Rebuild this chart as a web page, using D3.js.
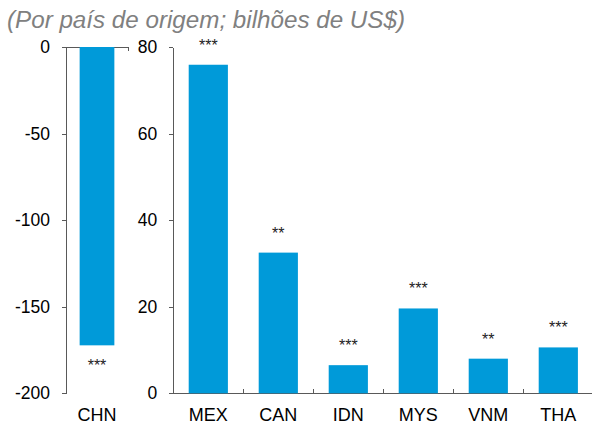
<!DOCTYPE html>
<meta charset="utf-8">
<style>
html, body {
  margin: 0;
  background: #fff;
}

text {
  font-family: "Liberation Sans", Arial, sans-serif;
  fill: #000;
}

.axis path, .axis line {
  stroke: #595959;
  stroke-width: 1px;
  shape-rendering: crispEdges;
}

.axis text {
  font-size: 17.5px;
  fill: #000;
}

rect.bar {
  fill: #009ad9;
}

.stars {
  font-size: 16px;
  fill: #222;
}

.cat {
  font-size: 18px;
}

.subtitle {
  font-size: 24.2px;
  font-style: italic;
  fill: #808080;
}
</style>

<svg></svg>

<script src="https://d3js.org/d3.v7.min.js"></script>
<script>

// Left panel: China
var leftCats = ['CHN'];
var leftValues = [-172.3];
var leftStars = ['***'];
var leftTicks = [0, -50, -100, -150, -200];

// Right panel: other origins
var rightCats = ['MEX', 'CAN', 'IDN', 'MYS', 'VNM', 'THA'];
var rightValues = [75.9, 32.5, 6.5, 19.6, 8.0, 10.6];
var rightStars = ['***', '**', '***', '***', '**', '***'];
var rightTicks = [0, 20, 40, 60, 80];

var width = 592;
var height = 424;
var plotTop = 47, plotBottom = 393.3;

var svg = d3.select('svg')
  .attr('width', width)
  .attr('height', height);

svg.append('text')
  .attr('class', 'subtitle')
  .attr('x', 7)
  .attr('y', 27.5)
  .text('(Por país de origem; bilhões de US$)');

function panel(cats, values, stars, ticks, domain, x0, x1) {
  var g = svg.append('g');

  var x = d3.scaleBand().domain(cats).range([x0, x1]).paddingInner(0.44).paddingOuter(0.22);
  var y = d3.scaleLinear().domain(domain).range([plotBottom, plotTop]);

  // y axis (plain hyphen for negatives, as in the source)
  g.append('g')
    .attr('class', 'axis')
    .attr('transform', 'translate(' + x0 + ',0)')
    .call(d3.axisLeft(y).tickValues(ticks).tickFormat(String)
      .tickSize(4).tickSizeOuter(0).tickPadding(12))
    .call(function (a) { a.selectAll('text').attr('fill', '#000'); });

  // baseline at zero with ticks at the category bounds
  var y0 = y(0);
  var down = domain[1] <= 0;
  var base = g.append('g').attr('class', 'axis');
  base.append('line')
    .attr('x1', x0).attr('x2', x1)
    .attr('y1', y0).attr('y2', y0);
  base.selectAll('line.tick')
    .data(d3.range(1, cats.length + 1))
    .enter().append('line')
    .attr('class', 'tick')
    .attr('x1', function (i) { return x0 + i * x.step(); })
    .attr('x2', function (i) { return x0 + i * x.step(); })
    .attr('y1', y0)
    .attr('y2', down ? y0 + 4 : y0 - 4);

  // bars
  g.selectAll('rect.bar')
    .data(values)
    .enter().append('rect')
    .attr('class', 'bar')
    .attr('x', function (d, i) { return x(cats[i]); })
    .attr('width', x.bandwidth())
    .attr('y', function (d) { return Math.min(y(d), y0); })
    .attr('height', function (d) { return Math.abs(y(d) - y0); });

  // significance stars
  g.selectAll('text.stars')
    .data(values)
    .enter().append('text')
    .attr('class', 'stars')
    .attr('text-anchor', 'middle')
    .attr('x', function (d, i) { return x(cats[i]) + x.bandwidth() / 2; })
    .attr('y', function (d) { return d < 0 ? y(d) + 26 : y(d) - 14; })
    .text(function (d, i) { return stars[i]; });

  // category labels at the bottom
  g.selectAll('text.cat')
    .data(cats)
    .enter().append('text')
    .attr('class', 'cat')
    .attr('text-anchor', 'middle')
    .attr('x', function (d) { return x(d) + x.bandwidth() / 2; })
    .attr('y', 421)
    .text(function (d) { return d; });
}

panel(leftCats, leftValues, leftStars, leftTicks, [-200, 0], 66, 128);
panel(rightCats, rightValues, rightStars, rightTicks, [0, 80], 173.3, 593.3);

</script>
